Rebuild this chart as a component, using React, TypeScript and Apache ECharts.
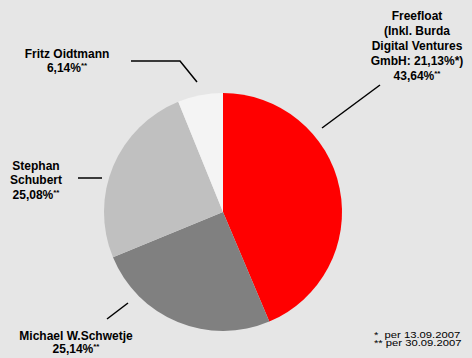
import React, { useEffect, useRef } from "react";
import * as echarts from "echarts";

const names = ["Freefloat\n(Inkl. Burda\nDigital Ventures\nGmbH: 21,13%*)", "Michael W.Schwetje", "Stephan\nSchubert", "Fritz Oidtmann"];
const values = [43.64, 25.14, 25.08, 6.14];
const valueLabels = ["43,64%", "25,14%", "25,08%", "6,14%"];
const colors = ["#ff0000", "#808080", "#c0c0c0", "#f4f4f4"];
const footnotes = ["*  per 13.09.2007", "** per 30.09.2007"];

// label anchor (center) and leader line points
const labelPos = [
  { x: 417, y: 46, lh: 15 },
  { x: 76, y: 342, lh: 13 },
  { x: 36, y: 180, lh: 14.5 },
  { x: 67, y: 61, lh: 14 },
];
const leaderLines = [
  [[380, 85], [322, 128]],
  [[128, 303], [107, 319]],
  [[102, 178], [78, 178]],
  [[197, 82], [180, 61], [131, 61]],
];

export default function App() {
  const ref = useRef<HTMLDivElement>(null);
  useEffect(() => {
    const chart = echarts.init(ref.current!, null, { renderer: "svg" });
    chart.setOption({
      animation: false,
      backgroundColor: "#e6e6e6",
      graphic: footnotes.map((t, i) => ({
        type: "text",
        x: 374,
        y: 330 + i * 8.5,
        scaleX: 1.25,
        style: { text: t, fontSize: 9, fontFamily: "Liberation Sans, Arial", fill: "#000" },
      })),
      series: [
        {
          type: "pie",
          center: [223, 212],
          radius: 119,
          startAngle: 90,
          clockwise: true,
          data: values.map((v, i) => ({
            value: v,
            name: names[i],
            itemStyle: { color: colors[i] },
            label: {
              lineHeight: labelPos[i].lh,
              rich: {
                n: { fontSize: 12, fontWeight: "bold", fontFamily: "Liberation Sans, Arial", color: "#000", lineHeight: labelPos[i].lh },
                s: { fontSize: 8, fontWeight: "bold", fontFamily: "Liberation Sans, Arial", color: "#000", padding: [0, 0, 5, 0], lineHeight: labelPos[i].lh },
              },
            },
          })),
          label: {
            show: true,
            align: "center",
            overflow: "none",
            width: 200,
            formatter: (p: any) =>
              p.name.split("\n").map((l: string) => `{n|${l}}`).join("\n") +
              `\n{n|${valueLabels[p.dataIndex]}}{s|**}`,
          },
          labelLine: { show: true, lineStyle: { color: "#000", width: 1.5 } },
          labelLayout: (p: any) => ({
            x: labelPos[p.dataIndex].x,
            y: labelPos[p.dataIndex].y,
            align: "center",
            verticalAlign: "middle",
            width: 200,
            labelLinePoints: leaderLines[p.dataIndex],
          }),
          emphasis: { disabled: true },
        },
      ],
    });
    return () => chart.dispose();
  }, []);
  return <div ref={ref} style={{ position: "absolute", left: 0, top: 0, width: 472, height: 358 }} />;
}
